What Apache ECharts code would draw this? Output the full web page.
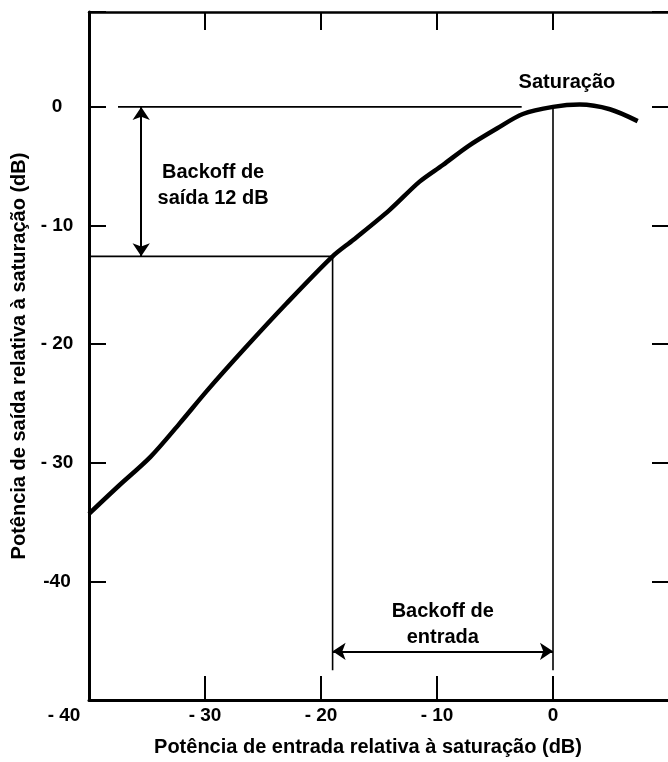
<!DOCTYPE html>
<html>
<head>
<meta charset="utf-8">
<script src="https://cdn.jsdelivr.net/npm/echarts@6/dist/echarts.min.js"></script>
<style>
html,body{margin:0;padding:0;background:#fff;}
#chart{width:668px;height:762px;}
</style>
</head>
<body>
<div id="chart"></div>
<script>
// ---- Data ----
const xTickValues = [-40, -30, -20, -10, 0, 10];
const xTickLabels = ['- 40', '- 30', '- 20', '- 10', '0', ''];
const yTickValues = [-50, -40, -30, -20, -10, 0];
const yTickLabels = ['', '-40', '- 30', '- 20', '- 10', '0'];

const xTitle = 'Potência de entrada relativa à saturação (dB)';
const yTitle = 'Potência de saída relativa à saturação (dB)';

// transfer curve (input dB, output dB)
const curveX = [-40, -37.5, -34.7, -32.2, -29.8, -26.7, -23.0, -19.0, -17.2, -14.1, -11.5, -9.5, -7.3, -4.8, -2.6, 0, 2.3, 4.9, 7.3];
const curveY = [-34.3, -32.0, -29.5, -26.7, -23.9, -20.5, -16.6, -12.6, -11.2, -8.7, -6.3, -4.9, -3.3, -1.8, -0.6, 0.0, 0.2, -0.2, -1.2];

// reference lines
const satLineX = [-37.5, -2.7];
const satLineY = [0, 0];
const outBackoffLineX = [-40, -19.0];
const outBackoffLineY = [-12.6, -12.6];
const inVertLineX = [-19.0, -19.0];
const inVertLineY = [-12.6, -47.5];
const satVertLineX = [0, 0];
const satVertLineY = [0, -47.5];

// arrows
const outArrowX = [-35.5, -35.5];
const outArrowY = [0, -12.6];
const inArrowX = [-19.0, 0];
const inArrowY = [-45.9, -45.9];

// annotations
const annX = [-29.3, -9.5, 1.2];
const annY = [-6.6, -43.6, 2.1];
const annText = ['Backoff de\nsaída 12 dB', 'Backoff de\nentrada', 'Saturação'];

// ---- Build ----
const FONT = '"Liberation Sans", Arial, sans-serif';
const zip = (xs, ys) => xs.map((x, i) => [x, ys[i]]);
const xLabelMap = {}; xTickValues.forEach((v, i) => xLabelMap[v] = xTickLabels[i]);
const yLabelMap = {}; yTickValues.forEach((v, i) => yLabelMap[v] = yTickLabels[i]);

const refLine = (xs, ys) => ({
  type: 'line', data: zip(xs, ys), symbol: 'none', silent: true,
  lineStyle: { color: '#000', width: 1.6 }, z: 3
});

const chart = echarts.init(document.getElementById('chart'), null, { renderer: 'canvas' });
chart.setOption({
  animation: false,
  backgroundColor: '#fff',
  grid: { left: 89, top: 12, width: 580, bottom: 62, containLabel: false, outerBoundsMode: 'none' },
  xAxis: [{
    type: 'value', min: -40, max: 10, interval: 10, position: 'bottom',
    axisLine: { show: true, onZero: false, lineStyle: { color: '#000', width: 3 } },
    axisTick: { show: true, inside: true, length: 24, lineStyle: { color: '#000', width: 2 } },
    splitLine: { show: false },
    axisLabel: {
      margin: 6, color: '#000', fontFamily: FONT, fontWeight: 'bold', fontSize: 19,
      formatter: v => (v === -40 ? '{a|' + xLabelMap[v] + '}' : (xLabelMap[v] || '')),
      rich: { a: { fontFamily: FONT, fontWeight: 'bold', fontSize: 19, color: '#000', padding: [0, 50, 0, 0] } }
    },
    name: xTitle, nameLocation: 'middle', nameGap: 37,
    nameTextStyle: { color: '#000', fontFamily: FONT, fontWeight: 'bold', fontSize: 20, padding: [0, 22, 0, 0] }
  }, {
    type: 'value', min: -40, max: 10, interval: 10, position: 'top',
    axisLine: { show: true, onZero: false, lineStyle: { color: '#000', width: 2.5 } },
    axisTick: { show: true, inside: true, length: 18, lineStyle: { color: '#000', width: 2 } },
    axisLabel: { show: false }, splitLine: { show: false }
  }],
  yAxis: [{
    type: 'value', min: -50, max: 8, interval: 10, position: 'left',
    axisLine: { show: true, onZero: false, lineStyle: { color: '#000', width: 3 } },
    axisTick: { show: true, inside: true, length: 17, lineStyle: { color: '#000', width: 2 } },
    splitLine: { show: false },
    axisLabel: {
      margin: 32, align: 'center', color: '#000', fontFamily: FONT, fontWeight: 'bold', fontSize: 19,
      formatter: v => yLabelMap[v] || ''
    },
    name: yTitle, nameLocation: 'middle', nameGap: 59,
    nameTextStyle: { color: '#000', fontFamily: FONT, fontWeight: 'bold', fontSize: 20 }
  }, {
    type: 'value', min: -50, max: 8, interval: 10, position: 'right',
    axisLine: { show: true, onZero: false, lineStyle: { color: '#000', width: 2.5 } },
    axisTick: { show: true, inside: true, length: 17, lineStyle: { color: '#000', width: 2 } },
    axisLabel: { show: false }, splitLine: { show: false }
  }],
  series: [
    {
      type: 'line', data: zip(curveX, curveY), symbol: 'none', smooth: 0.3,
      lineStyle: { color: '#000', width: 4.5 }, z: 5
    },
    refLine(satLineX, satLineY),
    refLine(outBackoffLineX, outBackoffLineY),
    refLine(inVertLineX, inVertLineY),
    refLine(satVertLineX, satVertLineY),
    {
      type: 'line', data: [], silent: true,
      markLine: {
        silent: true, symbol: ['arrow', 'arrow'], symbolSize: 13, precision: 3,
        label: { show: false },
        lineStyle: { color: '#000', width: 2, type: 'solid' },
        emphasis: { disabled: true },
        data: [
          [{ coord: [outArrowX[0], outArrowY[0]] }, { coord: [outArrowX[1], outArrowY[1]] }],
          [{ coord: [inArrowX[0], inArrowY[0]] }, { coord: [inArrowX[1], inArrowY[1]] }]
        ]
      }
    }
  ]
});

// annotation texts positioned via the chart's own coordinate conversion
const texts = annX.map((x, i) => {
  const p = chart.convertToPixel({ xAxisIndex: 0, yAxisIndex: 0 }, [x, annY[i]]);
  return {
    type: 'text', x: p[0], y: p[1], z: 100, silent: true,
    style: {
      text: annText[i], fill: '#000', font: 'bold 20px ' + FONT,
      align: 'center', verticalAlign: 'middle', lineHeight: 26
    }
  };
});
chart.setOption({ graphic: texts });
</script>
</body>
</html>
